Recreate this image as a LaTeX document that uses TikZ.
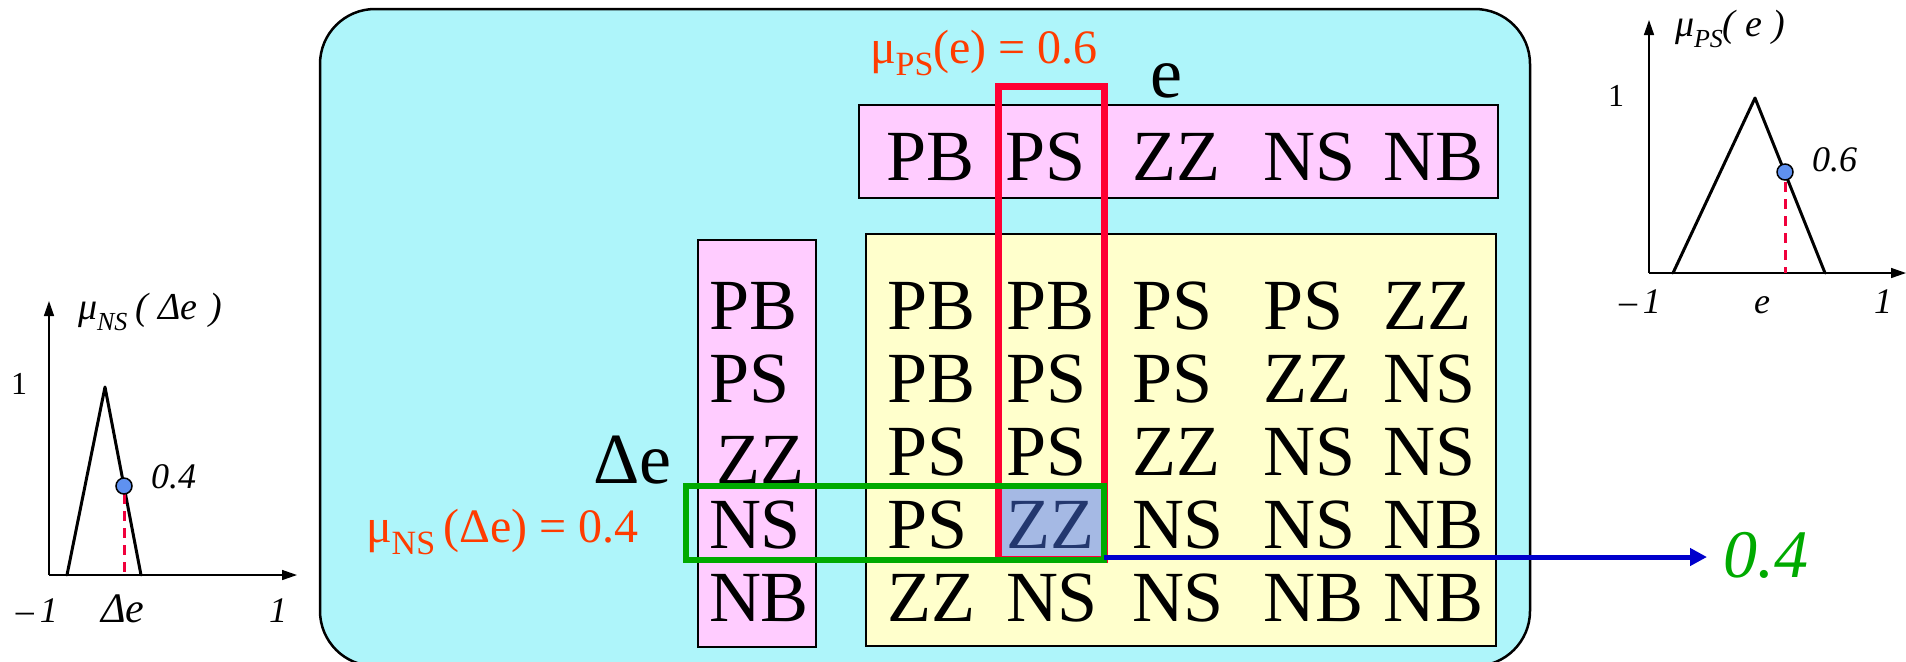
\documentclass[tikz,border=0pt]{standalone}
\usepackage{fontspec}
\setmainfont{Liberation Serif}
\usetikzlibrary{arrows.meta}
\definecolor{cyanbg}{RGB}{174,245,250}
\definecolor{pinkbg}{RGB}{255,204,255}
\definecolor{yellowbg}{RGB}{255,255,204}
\definecolor{redbox}{RGB}{255,0,51}
\definecolor{greenbox}{RGB}{0,170,0}
\definecolor{bluearrow}{RGB}{0,0,204}
\definecolor{orangered}{RGB}{255,60,0}
\definecolor{dotblue}{RGB}{95,145,240}
\definecolor{dashred}{RGB}{240,0,60}
\definecolor{cellblue}{RGB}{165,185,228}
\definecolor{navytext}{RGB}{35,55,110}
\newcommand\tabfont{\fontsize{36pt}{36pt}\selectfont}
\newcommand\redfont{\fontsize{24pt}{24pt}\selectfont}
\newcommand\plotfont{\fontsize{18pt}{18pt}\selectfont}
\newcommand\onefont{\fontsize{16pt}{16pt}\selectfont}
\newcommand\titlefont{\fontsize{19pt}{19pt}\selectfont}
\newcommand\outfont{\fontsize{34pt}{34pt}\selectfont\itshape}
\newcommand\subup[1]{\raisebox{-0.25em}{\fontsize{17pt}{17pt}\selectfont #1}}
\newcommand\subit[1]{\raisebox{-0.3em}{\fontsize{13pt}{13pt}\selectfont\itshape #1}}
\begin{document}
\begin{tikzpicture}[x=0.5pt,y=-0.5pt,
  every node/.style={inner sep=0pt,outer sep=0pt},
  tab/.style={font=\tabfont,anchor=base west},
  boxline/.style={draw=black,line width=1.25pt},
  axis/.style={line width=0.75pt,-{Triangle[length=7.5pt,width=5pt]}},
  memb/.style={line width=1.5pt,line join=round,line cap=round},
  dotpt/.style={circle,draw=black,line width=0.75pt,fill=dotblue,minimum size=8pt},
  dashmark/.style={draw=dashred,line width=1.5pt,dash pattern=on 5pt off 3.5pt},
  plotlbl/.style={font=\plotfont\itshape,anchor=base west},
  onelbl/.style={font=\onefont,anchor=base west},
  titlelbl/.style={font=\titlefont\itshape,anchor=base west},
  redlbl/.style={font=\redfont,text=orangered,anchor=base west}]
\useasboundingbox (0,0) rectangle (1906,661);
\clip (0,0) rectangle (1906,661);

% main panel
\draw[boxline,fill=cyanbg,rounded corners=27.5pt] (320,9) rectangle (1530,666);
\draw[boxline,fill=pinkbg] (859,105) rectangle (1498,198);
\draw[boxline,fill=yellowbg] (866,234) rectangle (1496,646);
\draw[boxline,fill=pinkbg] (698,240) rectangle (816,647);
\fill[cellblue] (1000,487) rectangle (1103,558);

% e labels
\node[tab] (h1) at (886,180) {PB};
\node[tab] (h2) at (1005,180) {PS};
\node[tab] (h3) at (1132,180) {ZZ};
\node[tab] (h4) at (1263,180) {NS};
\node[tab] (h5) at (1383,180) {NB};
\node[tab] (elbl) at (1150,97) {e};

% delta e labels
\node[tab] (v1) at (709,329) {PB};
\node[tab] (v2) at (709,402) {PS};
\node[tab] (v3) at (716,483) {ZZ};
\node[tab] (v4) at (709,548) {NS};
\node[tab] (v5) at (709,621) {NB};
\node[tab] (delbl) at (593,483) {Δe};

% rule table
\node[tab] (c11) at (887,329) {PB};
\node[tab] (c12) at (1006,329) {PB};
\node[tab] (c13) at (1132,329) {PS};
\node[tab] (c14) at (1263,329) {PS};
\node[tab] (c15) at (1383,329) {ZZ};
\node[tab] (c21) at (887,402) {PB};
\node[tab] (c22) at (1006,402) {PS};
\node[tab] (c23) at (1132,402) {PS};
\node[tab] (c24) at (1263,402) {ZZ};
\node[tab] (c25) at (1383,402) {NS};
\node[tab] (c31) at (887,475) {PS};
\node[tab] (c32) at (1006,475) {PS};
\node[tab] (c33) at (1132,475) {ZZ};
\node[tab] (c34) at (1263,475) {NS};
\node[tab] (c35) at (1383,475) {NS};
\node[tab] (c41) at (887,548) {PS};
\node[tab,text=navytext] (c42) at (1006,548) {ZZ};
\node[tab] (c43) at (1132,548) {NS};
\node[tab] (c44) at (1263,548) {NS};
\node[tab] (c45) at (1383,548) {NB};
\node[tab] (c51) at (887,621) {ZZ};
\node[tab] (c52) at (1006,621) {NS};
\node[tab] (c53) at (1132,621) {NS};
\node[tab] (c54) at (1263,621) {NB};
\node[tab] (c55) at (1383,621) {NB};

% selection frames
\draw[draw=redbox,line width=3.5pt] (998.5,86.5) rectangle (1104,559.5);
\draw[draw=greenbox,line width=3pt] (686,486) rectangle (1104,560);

% red membership labels
\node[redlbl] (mups) at (870,63) {μ\subup{PS}(e) = 0.6};
\node[redlbl] (muns) at (366,542) {μ\subup{NS}\,(Δe) = 0.4};

% output arrow
\coordinate (cellout) at (1104,557);
\node[font=\outfont,text=greenbox,anchor=west] (result) at (1723,555) {0.4};
\coordinate (arrowtip) at (1707,557);
\draw[draw=bluearrow,line width=2.5pt,-{Triangle[length=8.5pt,width=8.5pt]}] (cellout) -- (arrowtip);

% right plot: mu_PS(e)
\coordinate (ro) at (1649,273);
\coordinate (ry) at (1649,20);
\coordinate (rx) at (1906,273);
\draw[axis] (ro) -- (ry);
\draw[axis] (ro) -- (rx);
\coordinate (ra) at (1673,273);
\coordinate (rp) at (1755,98);
\coordinate (rb) at (1825,273);
\draw[memb] (ra) -- (rp) -- (rb);
\coordinate (rfoot) at (1785,273);
\coordinate (rtop) at (1785,182);
\draw[dashmark] (rtop) -- (rfoot);
\node[dotpt] (rdot) at (1785,172) {};
\node[titlelbl] (rtitle) at (1675,36) {μ\subit{PS}(\hspace{5pt}e\hspace{5pt})};
\node[onelbl] (rone) at (1608,106) {1};
\node[plotlbl] (rval) at (1812,171) {0.6};
\node[plotlbl] (rmin) at (1619,313) {–\hspace{3pt}1};
\node[plotlbl] (re) at (1754,313) {e};
\node[plotlbl] (rmax) at (1874,313) {1};

% left plot: mu_NS(delta e)
\coordinate (lo) at (49,575);
\coordinate (ly) at (49,301);
\coordinate (lx) at (297,575);
\draw[axis] (lo) -- (ly);
\draw[axis] (lo) -- (lx);
\coordinate (la) at (67,575);
\coordinate (lp) at (105,387);
\coordinate (lb) at (141,575);
\draw[memb] (la) -- (lp) -- (lb);
\coordinate (lfoot) at (124,575);
\coordinate (ltop) at (124,494);
\draw[dashmark] (ltop) -- (lfoot);
\node[dotpt] (ldot) at (124,486) {};
\node[titlelbl] (ltitle) at (78,319) {μ\subit{NS}\hspace{4pt}(\hspace{5pt}Δe\hspace{6pt})};
\node[onelbl] (lone) at (11,394) {1};
\node[plotlbl] (lval) at (151,488) {0.4};
\node[plotlbl] (lmin) at (16,622) {–\hspace{3pt}1};
\node[plotlbl,font=\fontsize{21pt}{21pt}\selectfont\itshape] (lde) at (101,622) {Δe};
\node[plotlbl] (lmax) at (269,622) {1};
\end{tikzpicture}
\end{document}
